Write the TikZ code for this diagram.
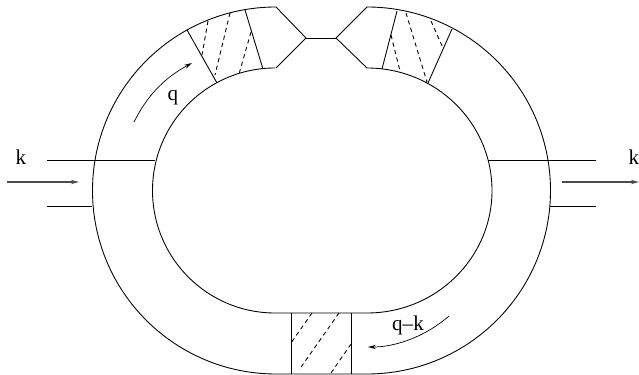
\documentclass[tikz,border=0pt]{standalone}
\usepackage{fontspec}
\setmainfont{Liberation Serif}
\usetikzlibrary{arrows.meta}

\begin{document}
\begin{tikzpicture}[
    x=0.02cm,y=0.02cm,
    wall/.style={line width=0.5pt},
    cut/.style={line width=0.5pt,dash pattern=on 2.4pt off 2pt},
    flow/.style={-{Stealth[length=4.5pt,width=2.4pt]},line width=0.4pt},
    ext/.style={-{Stealth[length=4.5pt,width=2.4pt]},line width=0.7pt,draw=black!70},
    lab/.style={inner sep=0pt,font=\fontsize{12}{14}\selectfont}
  ]
    \useasboundingbox (0,0) rectangle (639,375);

    % outer and inner contour
    \draw[wall] (276,368) arc (90:270:183.5) -- (367,1) arc (-90:90:183.5);
    \draw[wall] (275,307) arc (90:270:122.5) -- (367,62) arc (-90:90:125 and 122.5);

    % vertex at the top
    \draw[wall] (276,368) -- (306,337) -- (276,307);
    \draw[wall] (367,368) -- (336,337) -- (367,307);
    \draw[wall] (306,337) -- (336,337);

    % solid cuts
    \draw[wall] (187,345) -- (217,292);
    \draw[wall] (245,365) -- (263,306);
    \draw[wall] (397,364) -- (382,306);
    \draw[wall] (452,346) -- (428,292);
    \draw[wall] (291,62) -- (291,1);
    \draw[wall] (351,62) -- (351,1);

    % dashed lines in the boxes
    \draw[cut] (208,354) -- (202,320);
    \draw[cut] (230,362) -- (215,300);
    \draw[cut] (251,343) -- (239,301);
    \draw[cut] (391,340) -- (400,304);
    \draw[cut] (406,362) -- (427,293);
    \draw[cut] (431,354) -- (443,327);
    \draw[cut] (312,62) -- (291,32);
    \draw[cut] (339,62) -- (299,5);
    \draw[cut] (351,31) -- (331,2);

    % external legs
    \draw[wall] (47,215) -- (155,215);
    \draw[wall] (47,169) -- (92,169);
    \draw[wall] (488,215) -- (596,215);
    \draw[wall] (550,169) -- (596,169);

    \coordinate (inA) at (7,193);
    \coordinate (inB) at (79,193);
    \coordinate (outA) at (562,193);
    \coordinate (outB) at (639,193);
    \draw[ext] (inA) -- (inB);
    \draw[ext] (outA) -- (outB);

    % loop momenta
    \draw[flow] (134,253) .. controls (150,285) and (170,300) .. (192,312);
    \draw[flow] (449,59) .. controls (425,38) and (395,28) .. (368,28);

    \node[lab] (kin) at (21,218) {k};
    \node[lab] (kout) at (634,218) {k};
    \node[lab] (q) at (173,277) {q};
    \node[lab] (qk) at (408,50) {q--k};
\end{tikzpicture}
\end{document}
